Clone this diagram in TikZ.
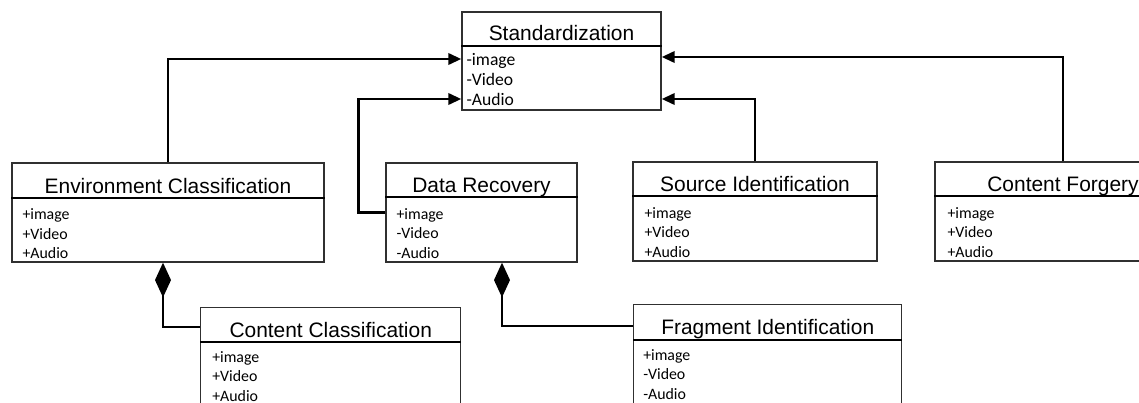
\documentclass[tikz,border=0pt]{standalone}
\usepackage{fontspec}
\usetikzlibrary{arrows.meta,calc}
\newfontfamily\titlefont{Liberation Sans}
\newfontfamily\bodyfont{Carlito}
\definecolor{boxgray}{HTML}{303030}
\begin{document}
\begin{tikzpicture}[x=0.75pt,y=-0.75pt,
  umlbox/.style n args={2}{draw=boxgray,line width=1.1pt,inner sep=0pt,
    minimum width=#1*0.75pt,minimum height=#2*0.75pt},
  ttl/.style={font=\titlefont\fontsize{15.7}{18}\selectfont,anchor=base,inner sep=0pt},
  attrs/.style={font=\bodyfont\fontsize{11.9}{14.6}\selectfont,anchor=base west,align=left,inner sep=0pt},
  bigattrs/.style={font=\bodyfont\fontsize{13.2}{15}\selectfont,anchor=base west,align=left,inner sep=0pt},
  divider/.style={line width=1.4pt,black},
  conn/.style={line width=2pt,black},
  gen/.style={conn,-{Triangle[length=9.75pt,width=8.5pt]}},
  comp/.style={conn,{Diamond[length=26pt,width=12pt]}-}]
\useasboundingbox (0,0) rectangle (1139,403);
\clip (0,0) rectangle (1139,403);

% boxes
\node[umlbox={199}{98}] (std) at (561.5,61) {};
\node[umlbox={312}{99}] (env) at (168,212.5) {};
\node[umlbox={191}{99}] (dr) at (481.5,212.5) {};
\node[umlbox={244}{99}] (src) at (755,211.5) {};
\node[umlbox={256}{99}] (cf) at (1063,211.5) {};
\node[umlbox={260}{110},anchor=north west] (cc) at (200,307) {};
\node[umlbox={268}{110},anchor=north west] (frag) at (633,304) {};

% dividers
\draw[divider] ($(std.north west)+(0,35)$) -- ($(std.north east)+(0,35)$);
\draw[divider] ($(env.north west)+(0,36)$) -- ($(env.north east)+(0,36)$);
\draw[divider] ($(dr.north west)+(0,35)$) -- ($(dr.north east)+(0,35)$);
\draw[divider] ($(src.north west)+(0,35)$) -- ($(src.north east)+(0,35)$);
\draw[divider] ($(cf.north west)+(0,35)$) -- ($(cf.north east)+(0,35)$);
\draw[divider] ($(cc.north west)+(0,35)$) -- ($(cc.north east)+(0,35)$);
\draw[divider] ($(frag.north west)+(0,36)$) -- ($(frag.north east)+(0,36)$);

% titles
\node[ttl] (stdT) at ($(std.north)+(0,29.7)$) {Standardization};
\node[ttl] (envT) at ($(env.north)+(0,31)$) {Environment Classification};
\node[ttl] (drT) at ($(dr.north)+(0,30)$) {Data Recovery};
\node[ttl] (srcT) at ($(src.north)+(0,30)$) {Source Identification};
\node[ttl] (cfT) at ($(cf.north)+(0,30)$) {Content Forgery};
\node[ttl] (ccT) at ($(cc.north)+(0,30)$) {Content Classification};
\node[ttl] (fragT) at ($(frag.north)+(0,30.5)$) {Fragment Identification};

% attributes (anchor = baseline of the last line)
\node[bigattrs] (stdA) at ($(std.north west)+(5,94)$) {-image\\-Video\\-Audio};
\node[attrs] (envA) at ($(env.north west)+(11,96.5)$) {+image\\+Video\\+Audio};
\node[attrs] (drA) at ($(dr.north west)+(11,96)$) {+image\\-Video\\-Audio};
\node[attrs] (srcA) at ($(src.north west)+(12,96)$) {+image\\+Video\\+Audio};
\node[attrs] (cfA) at ($(cf.north west)+(13,96)$) {+image\\+Video\\+Audio};
\node[attrs] (ccA) at ($(cc.north west)+(12,94)$) {+image\\+Video\\+Audio};
\node[attrs] (fragA) at ($(frag.north west)+(10,95)$) {+image\\-Video\\-Audio};

% generalisation connectors
\draw[gen] (env.north) |- ($(std.west)+(0,-2)$);
\draw[gen] (dr.west) -- ++(-27,0) |- ($(std.west)+(0,38)$);
\draw[gen] (src.north) |- ($(std.east)+(0,38)$);
\draw[gen] (cf.north) |- ($(std.east)+(0,-4)$);

% composition connectors
\draw[comp] ($(env.south)+(-5,0)$) |- ($(cc.north west)+(0,20)$);
\draw[comp] ($(dr.south)+(20.5,0)$) |- ($(frag.north west)+(0,22)$);
\end{tikzpicture}
\end{document}
